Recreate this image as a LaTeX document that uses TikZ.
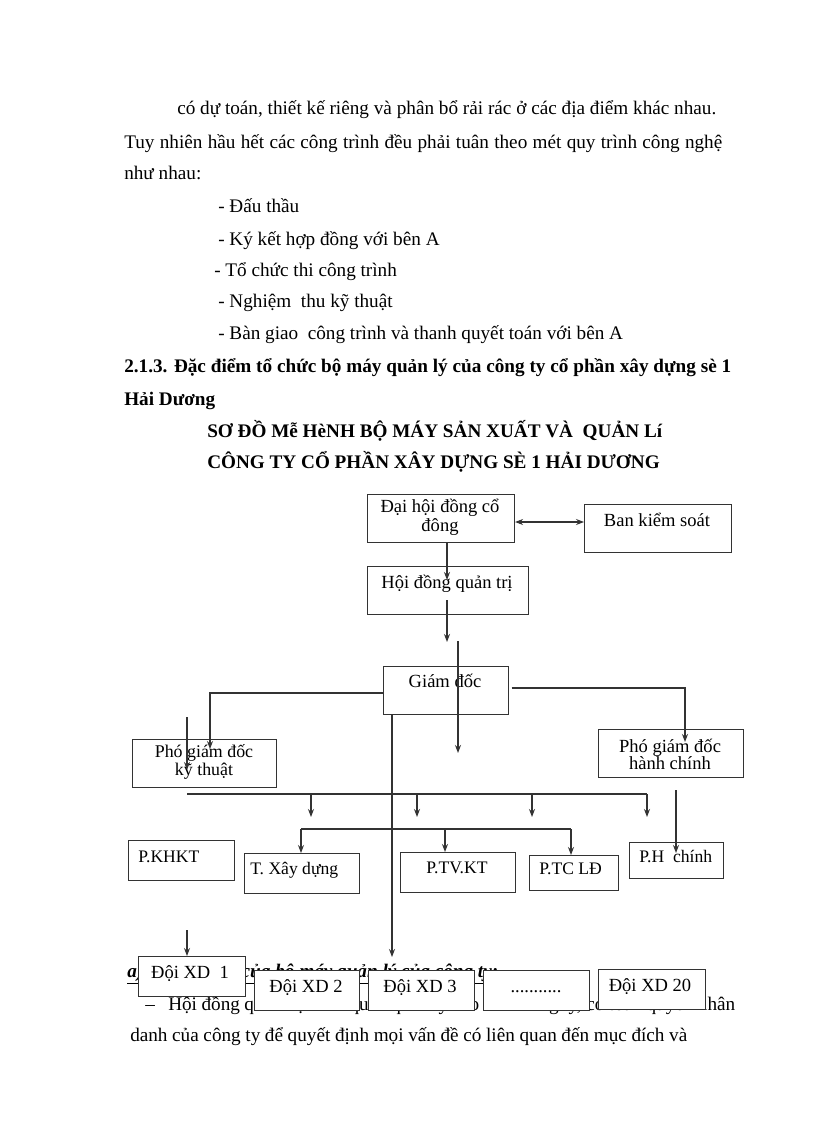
\documentclass[tikz,border=0pt]{standalone}
\usepackage{fontspec}
\setmainfont{Liberation Serif}
\usetikzlibrary{arrows.meta,calc}
\tikzset{
  box/.style={draw=black!80, line width=0.8pt, fill=white, inner sep=0pt, anchor=north west},
  lbl/.style={inner sep=0pt, font=\fontsize{13.9}{14.5}\selectfont, align=center},
  slbl/.style={inner sep=0pt, anchor=base west, font=\fontsize{13.2}{14}\selectfont},
  blbl/.style={inner sep=0pt, anchor=base, font=\fontsize{13.9}{14.5}\selectfont},
  txt/.style={inner sep=0pt, anchor=base west, font=\fontsize{14.4}{17}\selectfont},
  btxt/.style={txt, font=\fontsize{14.4}{17}\selectfont\bfseries},
  conn/.style={draw=black!80, line width=0.8pt},
  arr/.style={conn, -{Stealth[length=6pt,width=4.5pt]}},
  darr/.style={conn, {Stealth[length=6pt,width=4.5pt]}-{Stealth[length=6pt,width=4.5pt]}},
}
\newcommand\mybox[5]{\node[box, minimum width={(#4-#2)*0.75pt}, minimum height={(#5-#3)*0.75pt}] (#1) at (#2,#3) {};}
\begin{document}
\begin{tikzpicture}[x=0.75pt,y=-0.75pt]
\useasboundingbox (0,0) rectangle (816,1123);
\fill[white] (0,0) rectangle (816,1123);
% body text
\node[txt] (t1) at (177,115) {\makebox[404.25pt][s]{có dự toán, thiết kế riêng và phân bổ rải rác ở các địa điểm khác nhau.}};
\node[txt] (t2) at (124,149) {\makebox[448.5pt][s]{Tuy nhiên hầu hết các công trình đều phải tuân theo mét quy trình công nghệ}};
\node[txt] (t3) at (124,180) {như nhau:};
\node[txt] (t4) at (218,213) {- Đấu thầu};
\node[txt] (t5) at (218,245) {- Ký kết hợp đồng với bên A};
\node[txt] (t6) at (214,276) {- Tổ chức thi công trình};
\node[txt] (t7) at (218,307) {- Nghiệm\ \ thu kỹ thuật};
\node[txt] (t8) at (218,339) {- Bàn giao\ \ công trình và thanh quyết toán với bên A};
\node[btxt] (t9) at (124,372) {\makebox[455.25pt][s]{2.1.3. Đặc điểm tổ chức bộ máy quản lý của công ty cổ phần xây dựng sè 1}};
\node[btxt] (t10) at (124,405) {Hải Dương};
\node[btxt] (t11) at (207,437) {SƠ ĐỒ Mễ HèNH BỘ MÁY SẢN XUẤT VÀ\ \ QUẢN Lí};
\node[btxt] (t12) at (207,468) {CÔNG TY CỔ PHẦN XÂY DỰNG SÈ 1 HẢI DƯƠNG};
\node[txt, font=\fontsize{14.4}{17}\selectfont\bfseries\itshape] (t13) at (127,977) {\underline{a) Chức năng của bộ máy quản lý của công ty:}};
\node[txt] (t14a) at (145,1010) {–};
\node[txt] (t14) at (168,1010) {\makebox[425.25pt][s]{Hội đồng quản trị là cơ quan quản lý cao nhất công ty, có toàn quyền nhân}};
\node[txt] (t15) at (130,1041) {\makebox[417.75pt][s]{danh của công ty để quyết định mọi vấn đề có liên quan đến mục đích và}};
% boxes
\mybox{dh}{367}{494}{514}{542}
\mybox{bks}{584}{504}{731}{552}
\mybox{hdqt}{367}{566}{528}{614}
\mybox{gd}{383}{666}{508}{714}
\mybox{pgdkt}{132}{739}{276}{787}
\mybox{pgdhc}{598}{729}{743}{777}
\mybox{pkhkt}{128}{840}{234}{880}
\mybox{txd}{244}{853}{359}{893}
\mybox{ptvkt}{400}{852}{515}{892}
\mybox{ptcld}{529}{855}{618}{890}
\mybox{phc}{629}{842}{723}{878}
\mybox{xd1}{138}{956}{245}{996}
\mybox{xd2}{254}{970}{359}{1010}
\mybox{xd3}{368}{970}{474}{1010}
\mybox{xdd}{483}{970}{589}{1010}
\mybox{xd20}{598}{969}{705}{1009}
% labels
\node[lbl] (dhl) at (440,517) {Đại hội đồng cổ\\đông};
\node[blbl] (bksl) at (657,526) {Ban kiểm soát};
\node[blbl] (hdqtl) at (447,588) {Hội đồng quản trị};
\node[blbl] (gdl) at (445,687) {Giám đốc};
\node[lbl, font=\fontsize{13.4}{12}\selectfont] (pgdktl) at (204,762) {Phó giám đốc\\kỹ thuật};
\node[lbl, font=\fontsize{13.9}{12.75}\selectfont] (pgdhcl) at (670,754) {Phó giám đốc\\hành chính};
\node[slbl] (pkhktl) at (138,862) {P.KHKT};
\node[slbl] (txdl) at (250,874) {T. Xây dựng};
\node[slbl] (ptvktl) at (426,873) {P.TV.KT};
\node[slbl] (ptcldl) at (539,874) {P.TC LĐ};
\node[slbl] (phcl) at (639,862) {P.H\ \ chính};
\node[blbl] (xd1l) at (190,978) {Đội XD\ \ 1};
\node[blbl] (xd2l) at (306,992) {Đội XD 2};
\node[blbl] (xd3l) at (420,992) {Đội XD 3};
\node[blbl] (xddl) at (536,992) {...........};
\node[blbl] (xd20l) at (650,991) {Đội XD 20};
% connectors
\coordinate (q) at (0,522);
\draw[darr] (dh.east |- q) -- (bks.west |- q);
\coordinate (a1) at (447,580);
\draw[arr] (dh.south -| a1) -- (a1);
\coordinate (a2s) at (447,600);
\coordinate (a2e) at (447,642);
\draw[arr] (a2s) -- (a2e);
\coordinate (b1) at (458,641);
\coordinate (b2) at (458,753);
\draw[arr] (b1) -- (b2);
\coordinate (c0) at (0,693);
\coordinate (c1) at (210,749);
\draw[arr] (gd.west |- c0) -| (c1);
\coordinate (d1) at (187,717);
\coordinate (d2) at (187,770);
\draw[arr] (d1) -- (d2);
\coordinate (e0) at (0,688);
\coordinate (e1) at (685,742);
\draw[arr] ([xshift=2pt]gd.east |- e0) -| (e1);
\coordinate (f1) at (392,957);
\draw[arr] (gd.south -| f1) -- (f1);
\coordinate (g0) at (187,794);
\coordinate (g1) at (647,794);
\draw[conn] (g0) -- (g1);
\foreach \x in {311,417,532,647}{
  \coordinate (h\x) at (\x,817);
  \draw[arr] (g0 -| h\x) -- (h\x);
}
\coordinate (m1) at (301,829);
\coordinate (m2) at (445,829);
\coordinate (m3) at (571,829);
\draw[conn] (m1) -- (m3);
\draw[arr] (m1) -- (m1 |- txd.north);
\draw[arr] (m2) -- (m2 |- ptvkt.north);
\draw[arr] (m3) -- (m3 |- ptcld.north);
\coordinate (n1) at (676,790);
\coordinate (n2) at (676,853);
\draw[arr] (n1) -- (n2);
\coordinate (p1) at (187,930);
\draw[arr] (p1) -- (p1 |- xd1.north);
\end{tikzpicture}
\end{document}
